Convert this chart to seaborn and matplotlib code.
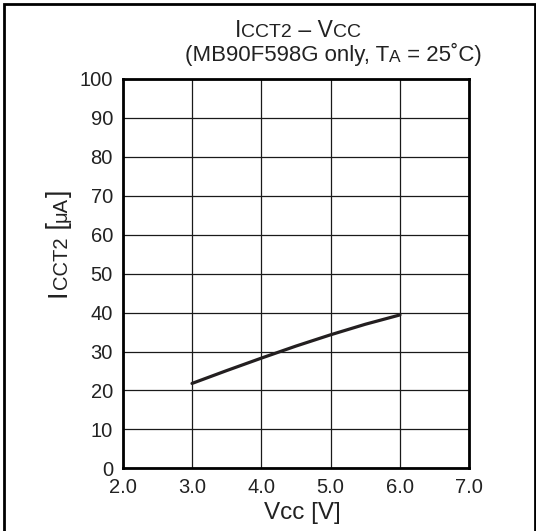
import matplotlib
matplotlib.use("Agg")
import matplotlib.pyplot as plt
from matplotlib.patches import Rectangle
from matplotlib.transforms import Bbox
import seaborn as sns

# data
vcc = [3.0, 3.5, 4.0, 4.5, 5.0, 5.5, 6.0]
icct2 = [21.8, 25.1, 28.3, 31.4, 34.3, 37.0, 39.4]

x_ticks = [2.0, 3.0, 4.0, 5.0, 6.0, 7.0]
x_tick_labels = ["2.0", "3.0", "4.0", "5.0", "6.0", "7.0"]
y_ticks = [0, 10, 20, 30, 40, 50, 60, 70, 80, 90, 100]

sns.set_style("white")
plt.rcParams['font.family'] = ['Liberation Sans', 'DejaVu Sans']

W, H = 536, 531
fig = plt.figure(figsize=(W / 100, H / 100), dpi=100)
ax = fig.add_axes([122.7 / W, 1 - 468.3 / H, 346.6 / W, 389.3 / H])

sns.lineplot(x=vcc, y=icct2, ax=ax, color='#231f20', lw=2.3)

ax.set_xlim(2.0, 7.0)
ax.set_ylim(0, 100)
ax.set_xticks(x_ticks)
ax.set_xticklabels(x_tick_labels)
ax.set_yticks(y_ticks)
ax.grid(True, color='#1a1a1a', lw=0.9)
ax.tick_params(axis='both', length=0, labelsize=14.5, colors='#222222', pad=7)
for s in ax.spines.values():
    s.set_linewidth(2)
    s.set_color('black')

ax.set_xlabel("Vcc [V]", fontsize=17.5, color='#222222', va='top')
ax.xaxis.set_label_coords((302 - 122.7) / 346.6, (468.3 - 502) / 389.3)
ax.set_ylabel("")


def chain(parts, x, y, rotation=0):
    # text pieces of different sizes drawn one after another on one baseline
    arts = []
    prev_size = None
    for txt, size in parts:
        if not arts:
            if rotation == 0:
                t = fig.text(x, y, txt, fontsize=size, ha='left', va='bottom', color='#222222')
            else:
                t = fig.text(x, y, txt, fontsize=size, ha='right', va='bottom',
                             rotation=90, color='#222222')
        else:
            d = 0.21 * (prev_size - size)
            if rotation == 0:
                t = ax.annotate(txt, xy=(1, 0), xycoords=arts[-1], xytext=(0, d),
                                textcoords='offset points', fontsize=size,
                                ha='left', va='bottom', color='#222222',
                                annotation_clip=False)
            else:
                t = ax.annotate(txt, xy=(1, 1), xycoords=arts[-1], xytext=(-d, 0),
                                textcoords='offset points', fontsize=size,
                                ha='right', va='bottom', rotation=90, color='#222222',
                                annotation_clip=False)
        arts.append(t)
        prev_size = size
    return arts


def center_on(arts, cx=None, cy=None):
    # move the whole chain so its extent is centred on pixel cx (or cy, from the top)
    fig.canvas.draw()
    r = fig.canvas.get_renderer()
    bb = Bbox.union([a.get_window_extent(r) for a in arts])
    x0, y0 = arts[0].get_position()
    if cx is not None:
        x0 += (cx - (bb.x0 + bb.x1) / 2) / W
    if cy is not None:
        y0 += ((H - cy) - (bb.y0 + bb.y1) / 2) / H
    arts[0].set_position((x0, y0))


title = chain([("I", 16.5), ("CCT2", 14), (" – V", 16.5), ("CC", 14)],
              232 / W, 1 - 42 / H)
center_on(title, cx=297.5)

sub = chain([("(MB90F598G only, T", 16), ("A", 12.5), (" = 25˚C)", 16)],
            185 / W, 1 - 66 / H)
center_on(sub, cx=333)

ylab = chain([("I", 19.5), ("CCT2", 14.5), (" [", 19.5), ("μA", 14.5), ("]", 19.5)],
             72 / W, 1 - 298 / H, rotation=90)
center_on(ylab, cy=243)

fig.add_artist(Rectangle((3.5 / W, -0.01), (535 - 3.5) / W, 1.01 - 4 / H,
                         transform=fig.transFigure, fill=False, lw=2, ec='black'))

fig.savefig("out.png", dpi=100)
